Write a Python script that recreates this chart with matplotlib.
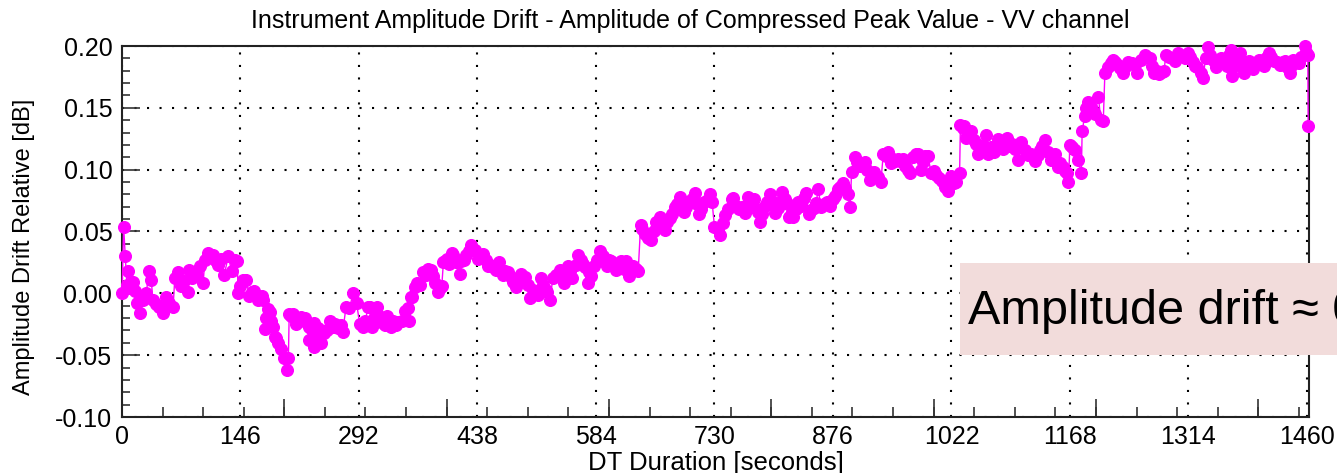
import numpy as np
import matplotlib
matplotlib.use("Agg")
import matplotlib.pyplot as plt
from matplotlib import font_manager as fm
from matplotlib.patches import Rectangle

# ---------------- data ----------------
time_s = [0, 2, 4, 6, 7, 10, 14, 16, 18, 22, 26, 30, 33, 36, 38, 42, 46, 50, 54, 58,
          63, 65, 69, 73, 77, 81, 83, 86, 89, 93, 96, 100, 102, 106, 109, 112, 115, 118, 122, 126,
          131, 135, 139, 142, 143, 146, 149, 153, 157, 160, 163, 168, 172, 174, 176, 178, 180, 182, 184, 186,
          188, 190, 192, 196, 200, 203, 205, 206, 208, 211, 215, 218, 221, 225, 228, 230, 231, 234, 236, 237,
          239, 241, 245, 249, 252, 256, 260, 262, 266, 270, 272, 276, 280, 285, 289, 293, 297, 300, 303, 305,
          308, 311, 314, 317, 321, 324, 327, 331, 334, 337, 340, 345, 349, 352, 353, 356, 357, 361, 364, 367,
          371, 375, 377, 381, 383, 386, 389, 392, 394, 396, 398, 401, 403, 406, 408, 412, 416, 418, 421, 424,
          427, 430, 433, 435, 439, 442, 445, 448, 451, 454, 457, 461, 465, 469, 472, 476, 479, 482, 486, 489,
          492, 497, 500, 503, 507, 510, 513, 516, 519, 522, 524, 527, 531, 535, 540, 544, 547, 549, 552, 555,
          559, 562, 565, 568, 571, 574, 575, 578, 581, 585, 589, 593, 597, 600, 603, 606, 609, 612, 615, 618,
          621, 625, 629, 633, 636, 639, 641, 644, 648, 652, 655, 658, 661, 663, 666, 669, 672, 675, 678, 681,
          684, 687, 690, 692, 695, 698, 702, 706, 709, 711, 713, 715, 719, 724, 727, 730, 734, 737, 740, 743,
          747, 751, 753, 757, 760, 764, 767, 771, 775, 777, 779, 783, 786, 789, 791, 795, 798, 801, 804, 808,
          810, 813, 817, 820, 822, 825, 827, 830, 833, 837, 840, 843, 846, 849, 852, 855, 858, 861, 865, 869,
          872, 876, 879, 882, 885, 888, 891, 894, 897, 899, 903, 906, 909, 912, 915, 918, 921, 924, 927, 931,
          935, 938, 941, 944, 946, 948, 952, 956, 959, 962, 965, 968, 971, 975, 978, 981, 984, 987, 989, 993,
          997, 1000, 1003, 1007, 1010, 1014, 1018, 1022, 1025, 1028, 1032, 1033, 1036, 1038, 1040, 1043, 1046, 1050, 1052, 1055,
          1058, 1061, 1065, 1067, 1071, 1075, 1079, 1082, 1085, 1088, 1091, 1094, 1096, 1100, 1104, 1108, 1112, 1116, 1120, 1123,
          1125, 1128, 1131, 1134, 1137, 1141, 1145, 1149, 1153, 1156, 1159, 1162, 1164, 1166, 1168, 1171, 1174, 1178, 1182, 1183,
          1186, 1188, 1190, 1193, 1195, 1199, 1203, 1206, 1209, 1211, 1215, 1218, 1221, 1224, 1227, 1230, 1233, 1237, 1240, 1244,
          1248, 1251, 1256, 1260, 1263, 1266, 1269, 1272, 1275, 1278, 1281, 1284, 1286, 1290, 1294, 1297, 1301, 1304, 1307, 1310,
          1313, 1316, 1319, 1322, 1325, 1329, 1332, 1335, 1338, 1341, 1344, 1348, 1351, 1354, 1358, 1361, 1364, 1366, 1368, 1371,
          1374, 1378, 1380, 1382, 1385, 1388, 1391, 1394, 1397, 1401, 1404, 1407, 1410, 1413, 1416, 1419, 1423, 1427, 1430, 1433,
          1436, 1439, 1441, 1443, 1446, 1450, 1453, 1457, 1459, 1461, 1461.5]

drift_db = [0.000, 0.054, 0.030, 0.007, 0.018, 0.004, 0.009, 0.002, -0.008, -0.016, -0.005, 0.000, 0.018, 0.011, -0.005, -0.009, -0.011, -0.016, -0.003, -0.008,
            -0.011, 0.012, 0.017, 0.006, 0.010, 0.001, 0.019, 0.012, 0.017, 0.015, 0.022, 0.008, 0.027, 0.033, 0.030, 0.031, 0.027, 0.023, 0.028, 0.015,
            0.030, 0.018, 0.027, 0.026, 0.000, 0.006, 0.011, 0.011, -0.002, 0.001, 0.002, -0.005, -0.002, -0.005, -0.029, -0.020, -0.013, -0.015, -0.022, -0.027,
            -0.035, -0.036, -0.040, -0.045, -0.052, -0.062, -0.052, -0.017, -0.018, -0.017, -0.025, -0.022, -0.019, -0.020, -0.024, -0.027, -0.038, -0.030, -0.024, -0.043,
            -0.034, -0.028, -0.040, -0.032, -0.030, -0.022, -0.027, -0.025, -0.028, -0.026, -0.031, -0.011, -0.012, 0.000, -0.008, -0.025, -0.027, -0.022, -0.011, -0.011,
            -0.027, -0.020, -0.011, -0.018, -0.024, -0.026, -0.018, -0.027, -0.022, -0.026, -0.023, -0.022, -0.014, -0.012, -0.022, -0.003, -0.003, 0.005, 0.008, 0.007,
            0.017, 0.015, 0.020, 0.019, 0.014, 0.008, 0.001, 0.004, 0.006, 0.025, 0.026, 0.028, 0.024, 0.033, 0.031, 0.025, 0.016, 0.026, 0.027, 0.031,
            0.034, 0.039, 0.036, 0.035, 0.028, 0.030, 0.032, 0.027, 0.022, 0.023, 0.021, 0.019, 0.025, 0.015, 0.018, 0.017, 0.013, 0.009, 0.005, 0.011,
            0.016, 0.013, 0.007, -0.004, 0.003, 0.000, -0.001, 0.012, 0.007, 0.003, 0.001, -0.005, 0.012, 0.015, 0.019, 0.008, 0.014, 0.022, 0.018, 0.012,
            0.023, 0.031, 0.027, 0.024, 0.021, 0.008, 0.017, 0.014, 0.022, 0.027, 0.034, 0.030, 0.022, 0.027, 0.026, 0.022, 0.019, 0.021, 0.026, 0.020,
            0.026, 0.014, 0.022, 0.020, 0.018, 0.055, 0.052, 0.048, 0.045, 0.043, 0.050, 0.058, 0.056, 0.062, 0.057, 0.051, 0.058, 0.061, 0.064, 0.070,
            0.072, 0.078, 0.071, 0.066, 0.070, 0.074, 0.076, 0.081, 0.072, 0.064, 0.068, 0.073, 0.075, 0.080, 0.074, 0.054, 0.052, 0.047, 0.057, 0.063,
            0.068, 0.076, 0.077, 0.071, 0.068, 0.070, 0.065, 0.078, 0.074, 0.070, 0.076, 0.066, 0.058, 0.064, 0.070, 0.074, 0.080, 0.072, 0.065, 0.069,
            0.074, 0.082, 0.076, 0.072, 0.062, 0.066, 0.062, 0.068, 0.074, 0.071, 0.077, 0.081, 0.064, 0.067, 0.069, 0.073, 0.084, 0.070, 0.072, 0.074,
            0.071, 0.076, 0.079, 0.084, 0.086, 0.089, 0.085, 0.080, 0.070, 0.098, 0.110, 0.106, 0.103, 0.104, 0.106, 0.100, 0.092, 0.096, 0.098, 0.094,
            0.090, 0.113, 0.111, 0.114, 0.110, 0.105, 0.107, 0.109, 0.107, 0.109, 0.103, 0.100, 0.097, 0.110, 0.113, 0.113, 0.100, 0.106, 0.111, 0.111,
            0.097, 0.099, 0.096, 0.093, 0.091, 0.086, 0.083, 0.095, 0.089, 0.090, 0.097, 0.136, 0.134, 0.135, 0.126, 0.129, 0.131, 0.124, 0.121, 0.113,
            0.118, 0.120, 0.128, 0.113, 0.118, 0.114, 0.125, 0.121, 0.117, 0.122, 0.126, 0.119, 0.121, 0.117, 0.108, 0.122, 0.116, 0.112, 0.113, 0.110,
            0.107, 0.112, 0.116, 0.119, 0.124, 0.114, 0.108, 0.113, 0.102, 0.105, 0.102, 0.099, 0.097, 0.090, 0.120, 0.118, 0.116, 0.108, 0.097, 0.131,
            0.143, 0.150, 0.155, 0.152, 0.149, 0.145, 0.159, 0.140, 0.139, 0.178, 0.183, 0.186, 0.189, 0.187, 0.185, 0.182, 0.178, 0.184, 0.187, 0.186,
            0.185, 0.178, 0.189, 0.193, 0.191, 0.190, 0.184, 0.178, 0.180, 0.177, 0.179, 0.180, 0.193, 0.191, 0.190, 0.188, 0.194, 0.193, 0.192, 0.190,
            0.194, 0.191, 0.187, 0.184, 0.183, 0.178, 0.174, 0.190, 0.199, 0.193, 0.189, 0.183, 0.187, 0.190, 0.187, 0.184, 0.193, 0.197, 0.176, 0.184,
            0.189, 0.194, 0.186, 0.178, 0.184, 0.188, 0.184, 0.181, 0.186, 0.189, 0.187, 0.184, 0.190, 0.194, 0.191, 0.188, 0.187, 0.185, 0.187, 0.188,
            0.183, 0.178, 0.185, 0.189, 0.188, 0.186, 0.191, 0.200, 0.195, 0.193, 0.135]

x_label_ticks = [0, 146, 292, 438, 584, 730, 876, 1022, 1168, 1314, 1460]
y_label_ticks = [-0.10, -0.05, 0.00, 0.05, 0.10, 0.15, 0.20]

title = "Instrument Amplitude Drift - Amplitude of Compressed Peak Value - VV channel"
xlabel = "DT Duration [seconds]"
ylabel = "Amplitude Drift Relative [dB]"
note = "Amplitude drift \u2248 0.2 dB"

# ---------------- fonts ----------------
def have(name):
    try:
        fm.findfont(fm.FontProperties(family=name), fallback_to_default=False)
        return True
    except Exception:
        return False

base_font = "Liberation Sans" if have("Liberation Sans") else "DejaVu Sans"
narrow_font = "Liberation Sans Narrow" if have("Liberation Sans Narrow") else base_font
plt.rcParams["font.family"] = [base_font, "DejaVu Sans"]

# ---------------- figure ----------------
W, H = 1337, 473
fig = plt.figure(figsize=(W / 100, H / 100), dpi=100)
ax = fig.add_axes([122 / W, (H - 417) / H, (1309 - 122) / W, (417 - 46) / H])

ax.plot(time_s, drift_db, color="#ff00ff", lw=1.0, marker="o", ms=8.4,
        mec="#ff00ff", mfc="#ff00ff", clip_on=False, zorder=3)

ax.set_xlim(0, 1462.5)
ax.set_ylim(-0.10, 0.20)

# x: labelled (and gridded) ticks at multiples of 146, tick marks every 50 / 200
ax.set_xticks(x_label_ticks)
ax.set_xticklabels([str(v) for v in x_label_ticks])
ax.set_xticks(np.arange(0, 1462, 50), minor=True)
ax.tick_params(axis="x", which="major", length=0, pad=6, labelsize=18)
ax.tick_params(axis="x", which="minor", direction="in", length=7, width=1.2, color="#333333")
sec = ax.secondary_xaxis("bottom")
sec.set_xticks(np.arange(0, 1462, 200))
sec.tick_params(direction="in", length=13, width=1.2, color="#333333", labelbottom=False)
for s in sec.spines.values():
    s.set_visible(False)

# y
ax.set_yticks(y_label_ticks)
ax.set_yticklabels([f"{v:.2f}" for v in y_label_ticks])
ax.set_yticks(np.arange(-0.10, 0.2001, 0.01), minor=True)
ax.tick_params(axis="y", which="major", direction="in", length=13, width=1.2,
               color="#333333", pad=7, labelsize=18)
ax.tick_params(axis="y", which="minor", direction="in", length=6, width=1.2, color="#333333")

ax.grid(True, which="major", color="black", linestyle=(0, (1, 5)), linewidth=1.5)
ax.set_axisbelow(True)
for s in ax.spines.values():
    s.set_linewidth(1.5)
    s.set_color("#222222")

ax.set_xlabel(xlabel, fontsize=18.5)
ax.xaxis.set_label_coords(0.5, (417 - 451) / 371)
ax.set_ylabel(ylabel, fontsize=17)
ax.yaxis.set_label_coords((35 - 122) / 1187, (417 - 247) / 371)

fig.text(690 / W, 1 - 21 / H, title, ha="center", va="center", fontsize=18,
         family=[narrow_font, "DejaVu Sans"])

# annotation box (clipped by the figure edge, as in the reference)
fig.add_artist(Rectangle((960 / W, 1 - 355 / H), 500 / W, 92 / H,
                         transform=fig.transFigure, facecolor="#f2dcdb",
                         edgecolor="none", zorder=5))
fig.text(968 / W, 1 - 311 / H, note, ha="left", va="center", fontsize=35,
         color="black", zorder=6)

fig.savefig("out.png", dpi=100)
